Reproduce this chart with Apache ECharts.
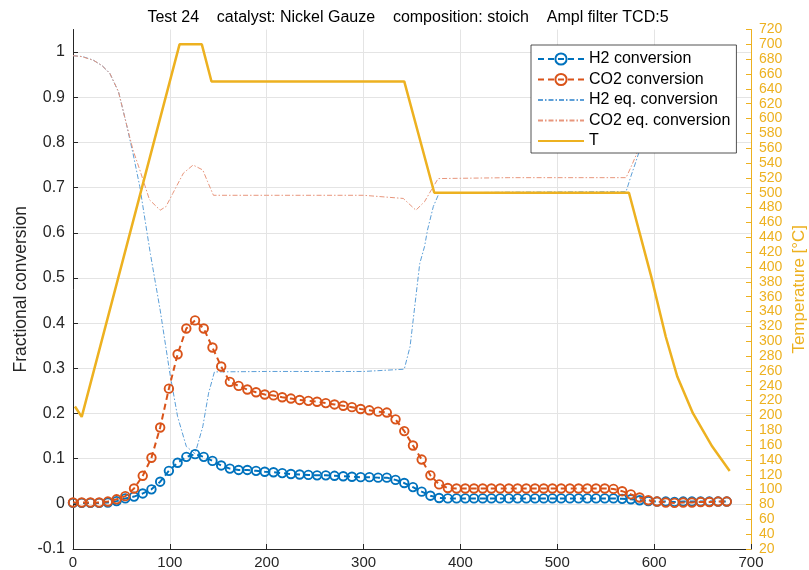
<!DOCTYPE html>
<html>
<head>
<meta charset="utf-8">
<script src="https://cdn.jsdelivr.net/npm/echarts@6/dist/echarts.min.js"></script>
<style>html,body{margin:0;padding:0;background:#fff}#c{width:809px;height:570px}</style>
</head>
<body>
<div id="c"></div>
<script>
// ---- data ----
const sampleTime = [0,9,18,27,36,45,54,63,72,81,90,99,108,117,126,135,144,153,162,171,180,189,198,207,216,225,234,243,252,261,270,279,288,297,306,315,324,333,342,351,360,369,378,387,396,405,414,423,432,441,450,459,468,477,486,495,504,513,522,531,540,549,558,567,576,585,594,603,612,621,630,639,648,657,666,675];
const h2Conversion = [0.002,0.002,0.002,0.002,0.003,0.006,0.012,0.016,0.023,0.032,0.049,0.073,0.091,0.104,0.110,0.104,0.095,0.085,0.078,0.075,0.075,0.073,0.071,0.070,0.068,0.066,0.065,0.064,0.063,0.063,0.062,0.061,0.060,0.059,0.059,0.058,0.058,0.053,0.046,0.037,0.027,0.018,0.013,0.012,0.012,0.012,0.012,0.012,0.012,0.012,0.012,0.012,0.012,0.012,0.012,0.012,0.012,0.012,0.012,0.012,0.012,0.012,0.012,0.011,0.010,0.008,0.006,0.005,0.005,0.004,0.005,0.005,0.005,0.005,0.005,0.005];
const co2Conversion = [0.003,0.003,0.003,0.003,0.005,0.010,0.017,0.034,0.062,0.102,0.169,0.255,0.331,0.388,0.406,0.388,0.346,0.304,0.270,0.261,0.253,0.247,0.242,0.240,0.236,0.233,0.230,0.228,0.226,0.223,0.220,0.217,0.214,0.210,0.207,0.204,0.202,0.187,0.161,0.129,0.098,0.063,0.043,0.035,0.034,0.034,0.034,0.034,0.034,0.034,0.034,0.034,0.034,0.034,0.034,0.034,0.034,0.034,0.034,0.034,0.034,0.034,0.033,0.028,0.021,0.014,0.008,0.005,0.003,0.002,0.003,0.003,0.004,0.004,0.005,0.005];

const h2EqTime = [0,10,21,30,38,47,55,62,69,76,80,90,100,108,117,126,134,140,146,200,300,342,348,353,358,363,366,372,378,450,571,576,580,584,590,597,605,613,624,640,660,678];
const h2EqConversion = [0.992,0.990,0.982,0.970,0.953,0.912,0.842,0.775,0.702,0.606,0.552,0.429,0.289,0.193,0.127,0.111,0.171,0.245,0.292,0.293,0.293,0.298,0.348,0.440,0.532,0.570,0.606,0.658,0.688,0.690,0.691,0.725,0.750,0.776,0.840,0.900,0.945,0.970,0.985,0.990,0.993,0.994];

const co2EqTime = [0,9,21,30,38,47,55,62,69,79,90,96,103,114,124,134,139,145,200,300,341,348,354,363,370,377,450,571,576,580,584,590,597,605,613,624,640,660,678];
const co2EqConversion = [0.992,0.990,0.982,0.970,0.953,0.912,0.842,0.783,0.739,0.673,0.650,0.658,0.687,0.732,0.750,0.739,0.713,0.683,0.683,0.683,0.676,0.662,0.650,0.669,0.695,0.720,0.722,0.722,0.745,0.765,0.785,0.830,0.890,0.935,0.962,0.982,0.990,0.993,0.994];

const tempTime = [2,9,110,133,143,342,373,574,585,597,612,624,640,660,678];
const temperature = [212,198,700,700,650,650,500,500,446,387,306,252,203,158,125];

const xTicks = {min:0, max:700, interval:100};
const leftTicks = {min:-0.1, max:1.05, interval:0.1};
const rightTicks = {min:20, max:720, interval:20};

const titleText = 'Test 24    catalyst: Nickel Gauze    composition: stoich    Ampl filter TCD:5';
const names = ['H2 conversion','CO2 conversion','H2 eq. conversion','CO2 eq. conversion','T'];

// ---- chart ----
const zip = (a,b) => a.map((v,i)=>[v,b[i]]);
const FONT = '"Liberation Sans", Arial, Helvetica, sans-serif';
const AX = '#262626';
const BLUE = '#0072BD', ORANGE = '#D95319', YELLOW = '#EDB120';
const CLEAR = 'rgba(255,255,255,0)';

const chart = echarts.init(document.getElementById('c'), null, {renderer:'canvas'});
chart.setOption({
  animation:false,
  backgroundColor:'#fff',
  textStyle:{fontFamily:FONT},
  title:{text:titleText, left:403, top:5, textAlign:'center',
         textStyle:{fontSize:16, fontWeight:'normal', color:'#000', fontFamily:FONT}},
  grid:{left:73, right:58, top:29.5, bottom:21, containLabel:false, outerBoundsMode:'none'},
  legend:{
    orient:'vertical', left:531, top:45, padding:[6,6,4,6],
    itemWidth:46, itemHeight:14, itemGap:4.5,
    backgroundColor:'#fff', borderColor:AX, borderWidth:0.8, borderRadius:0,
    textStyle:{fontSize:16, lineHeight:16, color:'#000', fontFamily:FONT},
    data:names
  },
  xAxis:{type:'value', min:xTicks.min, max:xTicks.max, interval:xTicks.interval,
    axisLine:{show:true, onZero:false, lineStyle:{color:AX, width:1}},
    axisTick:{show:true, inside:true, length:5, lineStyle:{color:AX}},
    axisLabel:{color:AX, fontSize:15, margin:6, fontFamily:FONT},
    splitLine:{show:true, lineStyle:{color:'#e4e4e4', width:1}}
  },
  yAxis:[
    {type:'value', min:leftTicks.min, max:leftTicks.max, interval:leftTicks.interval,
     name:'Fractional conversion', nameLocation:'middle', nameRotate:90, nameGap:43,
     nameMoveOverlap:false,
     nameTextStyle:{fontSize:17.5, color:AX, fontFamily:FONT},
     axisLine:{show:true, lineStyle:{color:AX, width:1}},
     axisTick:{show:true, inside:true, length:5, lineStyle:{color:AX}},
     axisLabel:{color:AX, fontSize:16, margin:8, fontFamily:FONT, showMaxLabel:false,
       formatter:v => (Math.abs(v-1.05)<1e-6 ? '' : String(+v.toFixed(2)))},
     splitLine:{show:true, showMaxLine:false, lineStyle:{color:'#e4e4e4', width:1}}
    },
    {type:'value', position:'right', min:rightTicks.min, max:rightTicks.max, interval:rightTicks.interval,
     name:'Temperature [°C]', nameLocation:'middle', nameRotate:90, nameGap:40,
     nameMoveOverlap:false,
     nameTextStyle:{fontSize:17, color:YELLOW, fontFamily:FONT},
     axisLine:{show:true, lineStyle:{color:YELLOW, width:1}},
     axisTick:{show:true, inside:true, length:5, lineStyle:{color:YELLOW}},
     axisLabel:{color:YELLOW, fontSize:14, margin:8, fontFamily:FONT},
     splitLine:{show:false}
    }
  ],
  series:[
    {name:names[0], type:'line', yAxisIndex:0, data:zip(sampleTime,h2Conversion),
     symbol:'circle', symbolSize:8.5, showSymbol:true, showAllSymbol:true,
     itemStyle:{color:CLEAR, borderColor:BLUE, borderWidth:1.9},
     lineStyle:{color:BLUE, width:2, type:[6,4]}, z:3},
    {name:names[1], type:'line', yAxisIndex:0, data:zip(sampleTime,co2Conversion),
     symbol:'circle', symbolSize:8.5, showSymbol:true, showAllSymbol:true,
     itemStyle:{color:CLEAR, borderColor:ORANGE, borderWidth:1.9},
     lineStyle:{color:ORANGE, width:2, type:[6,4]}, z:4},
    {name:names[2], type:'line', yAxisIndex:0, data:zip(h2EqTime,h2EqConversion),
     symbol:'none', itemStyle:{color:CLEAR},
     lineStyle:{color:'#5c9fd8', width:1, type:[5,2,1.5,2]}, z:2},
    {name:names[3], type:'line', yAxisIndex:0, data:zip(co2EqTime,co2EqConversion),
     symbol:'none', itemStyle:{color:CLEAR},
     lineStyle:{color:'#e8967c', width:1, type:[5,2,1.5,2]}, z:2},
    {name:names[4], type:'line', yAxisIndex:1, data:zip(tempTime,temperature),
     symbol:'none', itemStyle:{color:CLEAR},
     lineStyle:{color:YELLOW, width:2.5}, z:5}
  ]
});
</script>
</body>
</html>
